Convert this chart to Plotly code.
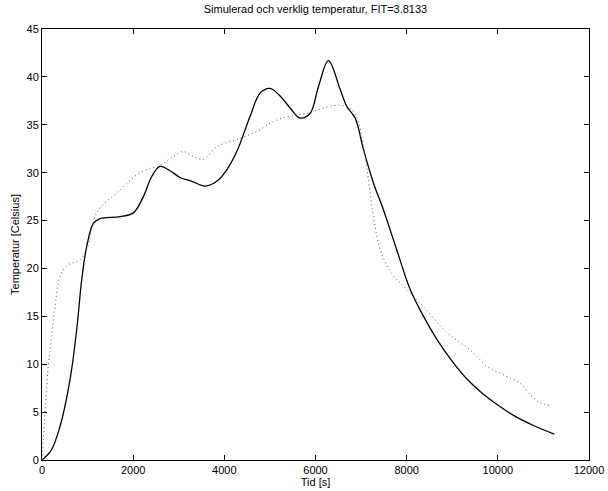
import plotly.graph_objects as go

# Simulated temperature (solid)
sim_t = [0, 200, 395, 615, 761, 871, 981, 1127, 1273, 1712, 2004, 2224, 2407, 2590,
         2810, 3029, 3286, 3578, 3834, 4054, 4273, 4566, 4785, 5004, 5224, 5443, 5663,
         5883, 6065, 6284, 6541, 6688, 6870, 7053, 7273, 7492, 7785, 8078, 8370, 8663,
         9000, 9322, 9650, 10053, 10400, 10784, 11238]
sim_y = [0, 1.0, 3.5, 8.4, 13.6, 18.8, 22.3, 24.7, 25.2, 25.4, 25.8, 27.5, 29.6, 30.65,
         30.2, 29.5, 29.1, 28.6, 29.1, 30.3, 32.2, 35.9, 38.3, 38.8, 38.0, 36.75, 35.7,
         36.2, 39.0, 41.7, 38.7, 36.9, 35.7, 32.4, 28.9, 26.1, 21.9, 17.8, 15.0, 12.6,
         10.3, 8.45, 7.0, 5.55, 4.5, 3.6, 2.7]

# Measured temperature (dotted)
real_t = [0, 29, 66, 138, 212, 285, 395, 542, 834, 981, 1200, 1712, 2151, 2590, 2883,
          3102, 3321, 3541, 3834, 4346, 4712, 5077, 5443, 5810, 6395, 6688, 6834, 6944,
          7090, 7163, 7272, 7419, 7638, 8005, 8371, 8883, 9395, 9761, 10200, 10492,
          10711, 10931, 11150]
real_y = [0, 2.1, 4.9, 9.8, 12.9, 16.0, 19.2, 20.3, 20.9, 22.0, 25.8, 28.2, 30.0, 30.8,
          31.7, 32.2, 31.7, 31.4, 32.7, 33.6, 34.3, 35.35, 35.9, 36.2, 37.0, 36.9, 36.4,
          35.2, 31.7, 29.2, 25.4, 22.0, 19.7, 17.8, 16.0, 13.3, 11.5, 9.8, 8.7, 8.0,
          6.8, 5.95, 5.7]

x_ticks = [0, 2000, 4000, 6000, 8000, 10000, 12000]
y_ticks = [0, 5, 10, 15, 20, 25, 30, 35, 40, 45]

fig = go.Figure()
fig.add_trace(go.Scatter(x=sim_t, y=sim_y, mode="lines", name="Simulerad",
                         line=dict(color="black", width=1.3, shape="spline", smoothing=1.0)))
fig.add_trace(go.Scatter(x=real_t, y=real_y, mode="lines", name="Verklig",
                         line=dict(color="#555555", width=1, dash="1px,3px", shape="spline", smoothing=1.0)))

font = "Liberation Sans, Arial, Helvetica, sans-serif"
fig.update_layout(
    width=608, height=491,
    margin=dict(l=42, r=19, t=29, b=31),
    paper_bgcolor="white", plot_bgcolor="white",
    showlegend=False,
    font=dict(family=font, size=11, color="black"),
    title=dict(text="Simulerad och verklig temperatur, FIT=3.8133", x=0.5, xref="paper",
               y=1, yref="container", yanchor="top", pad=dict(t=5),
               font=dict(family=font, size=11, color="black")),
)
fig.update_xaxes(range=[0, 12000], tickvals=x_ticks, ticktext=[str(v) for v in x_ticks],
                 showgrid=False, zeroline=False, showline=True, linecolor="black", linewidth=1,
                 mirror="ticks", ticks="inside", ticklen=5, tickcolor="black",
                 title=dict(text="Tid [s]", standoff=1, font=dict(size=11)), automargin=False)
fig.update_yaxes(range=[0, 45], tickvals=y_ticks, ticktext=[str(v) for v in y_ticks],
                 showgrid=False, zeroline=False, showline=True, linecolor="black", linewidth=1,
                 mirror="ticks", ticks="inside", ticklen=5, tickcolor="black",
                 title=dict(text="Temperatur [Celsius]", standoff=4, font=dict(size=11)), automargin=False)

fig.write_html("out.html", config={"displayModeBar": False},
               post_script="document.body.style.margin='0';")
